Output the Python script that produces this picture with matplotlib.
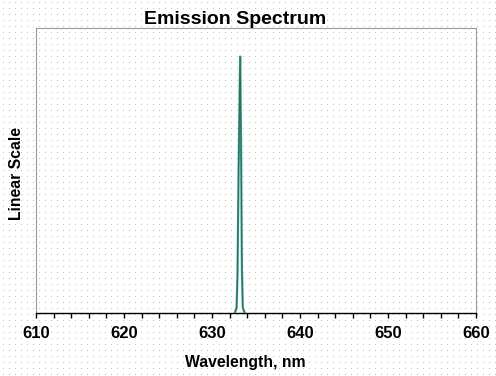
import numpy as np
import matplotlib
matplotlib.use("Agg")
import matplotlib.pyplot as plt
from matplotlib.ticker import MultipleLocator

# Data
wavelength_nm = [632.6, 632.8, 632.9, 633.0, 633.1, 633.2, 633.3, 633.4, 633.5, 633.7]
intensity = [0.0, 0.02, 0.14, 0.44, 0.68, 0.90, 0.60, 0.15, 0.02, 0.0]
x_ticks = [610, 620, 630, 640, 650, 660]

W, H = 496, 376
fig = plt.figure(figsize=(W / 100, H / 100), dpi=100)
fig.patch.set_facecolor("white")

# dotted background pattern
bg = np.ones((H, W, 3))
bg[2::6, 3::6] = 0.76
fig.figimage(bg, xo=0, yo=0, origin="upper", zorder=0)

ax = fig.add_axes([36 / W, (H - 313) / H, 440 / W, 285 / H])
ax.set_zorder(2)
ax.patch.set_alpha(0)

ax.plot(wavelength_nm, intensity, color="#3a9c8c", lw=1.6, zorder=3)
ax.plot(wavelength_nm, intensity, color="#2a5a50", lw=0.5, zorder=4)

ax.set_xlim(610, 660)
ax.set_ylim(0, 1)
ax.set_xticks(x_ticks)
ax.xaxis.set_minor_locator(MultipleLocator(2))
ax.set_yticks([])
ax.tick_params(axis="x", which="both", direction="out", length=3.6, width=1,
               color="black", pad=6)
for lab in ax.get_xticklabels():
    lab.set_fontfamily("Liberation Sans")
    lab.set_fontweight("bold")
    lab.set_fontsize(12)

for s in ["top", "left", "right"]:
    ax.spines[s].set_color("#9a9a9a")
    ax.spines[s].set_linestyle((0, (1, 1)))
    ax.spines[s].set_linewidth(0.8)
ax.spines["bottom"].set_color("black")
ax.spines["bottom"].set_linewidth(1)

font = dict(family="Liberation Sans", weight="bold")
fig.text(235 / W, 1 - 19 / H, "Emission Spectrum", ha="center", va="center",
         fontsize=14, zorder=3, **font)
fig.text(245 / W, 1 - 362 / H, "Wavelength, nm", ha="center", va="center",
         fontsize=11.3, zorder=3, **font)
fig.text(17 / W, 1 - 174 / H, "Linear Scale", ha="center", va="center",
         rotation=90, fontsize=11.3, zorder=3, **font)

fig.savefig("out.png", dpi=100)
